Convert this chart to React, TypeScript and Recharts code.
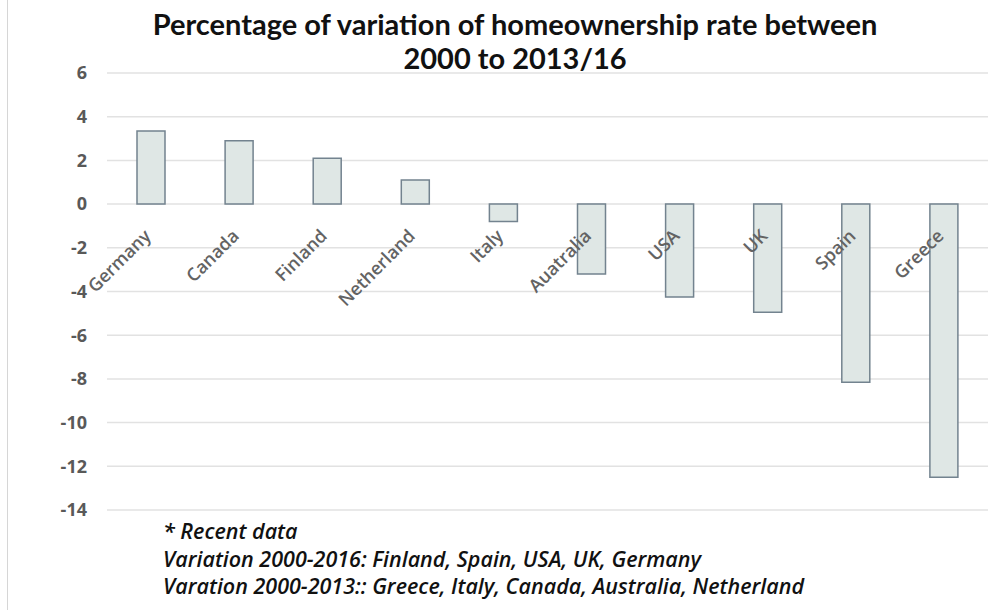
import { Bar, BarChart, CartesianGrid, LabelList, XAxis, YAxis } from 'recharts';

const countries = ['Germany', 'Canada', 'Finland', 'Netherland', 'Italy', 'Auatralia', 'USA', 'UK', 'Spain', 'Greece'];
const variation = [3.35, 2.9, 2.1, 1.1, -0.8, -3.2, -4.25, -4.95, -8.15, -12.5];
const yTicks = [-14, -12, -10, -8, -6, -4, -2, 0, 2, 4, 6];

const titleLines = ['Percentage of variation of homeownership rate between', '2000 to 2013/16'];
const notes = [
  '* Recent data',
  'Variation 2000-2016: Finland, Spain, USA, UK, Germany',
  'Varation 2000-2013:: Greece, Italy, Canada, Australia, Netherland',
];

const data = countries.map((country, i) => ({ country, value: variation[i] }));

const textGray = '#595959';

// country names sit just under the zero line, rotated like the original
function CountryLabel(props: any) {
  const vb = props.viewBox ?? props;
  const { x, y, width, height } = vb;
  const name = props.value as string;
  const v = variation[countries.indexOf(name)];
  const top = Math.min(y, y + height);
  const bottom = Math.max(y, y + height);
  const zeroY = v >= 0 ? bottom : top;
  const cx = x + width / 2;
  return (
    <text
      transform={`translate(${cx + 1},${zeroY + 33}) rotate(-45)`}
      textAnchor="end"
      fontFamily="'Open Sans', sans-serif"
      fontSize={18}
      fontWeight={600}
      fill="#636363"
    >
      {name}
    </text>
  );
}

export default function App() {
  return (
    <div
      style={{
        position: 'absolute',
        left: 0,
        top: 0,
        width: 1008,
        height: 610,
        background: '#fff',
        overflow: 'hidden',
      }}
    >
      <div style={{ position: 'absolute', left: 7, top: 0, width: 1, height: 610, background: '#d6d6d6' }} />
      <BarChart
        width={1008}
        height={610}
        data={data}
        margin={{ top: 73, right: 20, bottom: 100, left: 0 }}
        barCategoryGap={0}
      >
        <CartesianGrid vertical={false} stroke="#e2e2e2" strokeWidth={1.5} />
        <XAxis dataKey="country" hide />
        <YAxis
          width={107}
          domain={[-14, 6]}
          ticks={yTicks}
          interval={0}
          axisLine={false}
          tickLine={false}
          tickMargin={14}
          tick={{ fill: textGray, fontSize: 18, fontWeight: 700, fontFamily: "'Open Sans', sans-serif" }}
        />
        <Bar dataKey="value" barSize={28} fill="#dfe7e5" stroke="#73838f" strokeWidth={1.5} isAnimationActive={false}>
          <LabelList dataKey="country" content={CountryLabel} />
        </Bar>
      </BarChart>
      <div
        style={{
          position: 'absolute',
          left: 0,
          top: 7,
          width: 1030,
          textAlign: 'center',
          fontFamily: 'Lato, sans-serif',
          fontWeight: 700,
          fontSize: 29,
          lineHeight: '34px',
          color: '#111',
        }}
      >
        {titleLines.map((t) => (
          <div key={t}>{t}</div>
        ))}
      </div>
      <div
        style={{
          position: 'absolute',
          left: 163,
          top: 517,
          fontFamily: "'Open Sans', sans-serif",
          fontStyle: 'italic',
          fontWeight: 600,
          fontSize: 21.5,
          lineHeight: '27.7px',
          color: '#111',
        }}
      >
        {notes.map((t) => (
          <div key={t}>{t}</div>
        ))}
      </div>
    </div>
  );
}
